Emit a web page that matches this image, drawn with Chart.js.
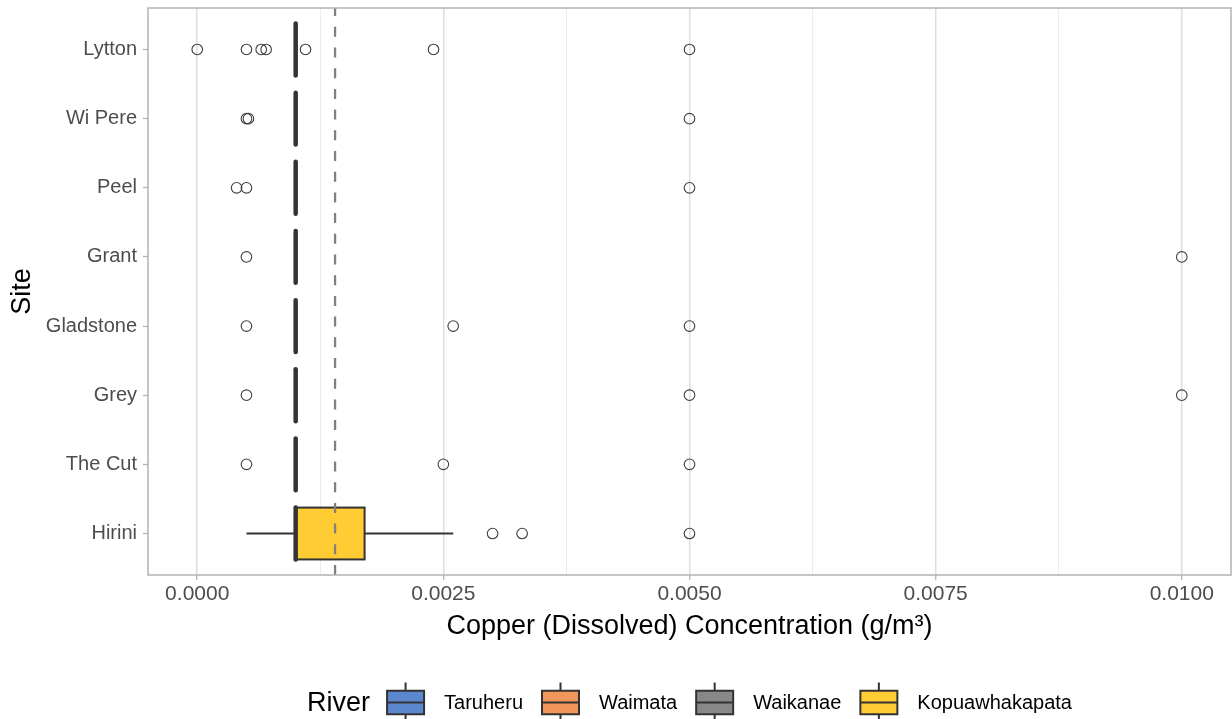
<!DOCTYPE html>
<html>
<head>
<meta charset="utf-8">
<script src="https://cdn.jsdelivr.net/npm/chart.js@4.4.1/dist/chart.umd.min.js"></script>
<style>
  html, body { margin: 0; padding: 0; background: #ffffff; }
  #wrap { width: 1232px; height: 719px; }
</style>
</head>
<body>
<div id="wrap"><canvas id="chart" width="1232" height="719"></canvas></div>
<script>
// Sites, top to bottom, and the river each one drains to
const sites = ['Lytton', 'Wi Pere', 'Peel', 'Grant', 'Gladstone', 'Grey', 'The Cut', 'Hirini'];
const siteRiver = ['Taruheru', 'Taruheru', 'Waimata', 'Waimata', 'Waikanae', 'Waikanae', 'Waikanae', 'Kopuawhakapata'];
const rivers = ['Taruheru', 'Waimata', 'Waikanae', 'Kopuawhakapata'];
const riverColors = ['#5B87CF', '#F2955A', '#888888', '#FFCC33'];

// Box statistics per site (g/m³)
const whiskerLow  = [0.001, 0.001, 0.001, 0.001, 0.001, 0.001, 0.001, 0.0005];
const q1          = [0.001, 0.001, 0.001, 0.001, 0.001, 0.001, 0.001, 0.001];
const median      = [0.001, 0.001, 0.001, 0.001, 0.001, 0.001, 0.001, 0.001];
const q3          = [0.001, 0.001, 0.001, 0.001, 0.001, 0.001, 0.001, 0.0017];
const whiskerHigh = [0.001, 0.001, 0.001, 0.001, 0.001, 0.001, 0.001, 0.0026];

// Outlying samples per site
const outliers = [
  [0, 0.0005, 0.00065, 0.0007, 0.0011, 0.0024, 0.005],
  [0.0005, 0.00052, 0.005],
  [0.0004, 0.0005, 0.005],
  [0.0005, 0.01],
  [0.0005, 0.0026, 0.005],
  [0.0005, 0.005, 0.01],
  [0.0005, 0.0025, 0.005],
  [0.003, 0.0033, 0.005]
];

// Guideline value drawn as a dashed reference line
const guideline = 0.0014;

// Axis ticks and titles
const xTicks = [0, 0.0025, 0.005, 0.0075, 0.01];
const xTitle = 'Copper (Dissolved) Concentration (g/m³)';
const yTitle = 'Site';
const legendTitle = 'River';

const FONT = '"Liberation Sans", Arial, sans-serif';
Chart.defaults.font.family = FONT;

// Major ticks plus the minor gridline positions halfway between them
const allXTicks = [];
xTicks.forEach((v, i) => {
  allXTicks.push(v);
  if (i < xTicks.length - 1) allXTicks.push((v + xTicks[i + 1]) / 2);
});
const isMajor = v => xTicks.some(t => Math.abs(t - v) < 1e-9);

const outlierPoints = [];
outliers.forEach((vals, i) => vals.forEach(v => outlierPoints.push({ x: v, y: i })));

const BOX_WIDTH = 0.75;

const boxPlugin = {
  id: 'boxes',
  beforeDatasetsDraw(chart) {
    const { ctx, chartArea: a, scales: { x, y } } = chart;
    ctx.save();
    ctx.beginPath();
    ctx.rect(a.left, a.top, a.right - a.left, a.bottom - a.top);
    ctx.clip();
    sites.forEach((s, i) => {
      const cy = y.getPixelForValue(i);
      const top = y.getPixelForValue(i - BOX_WIDTH / 2);
      const bot = y.getPixelForValue(i + BOX_WIDTH / 2);
      const xl = x.getPixelForValue(whiskerLow[i]);
      const x1 = x.getPixelForValue(q1[i]);
      const xm = x.getPixelForValue(median[i]);
      const x3 = x.getPixelForValue(q3[i]);
      const xh = x.getPixelForValue(whiskerHigh[i]);
      ctx.strokeStyle = '#333333';
      ctx.lineWidth = 2;
      ctx.lineCap = 'butt';
      // whiskers
      ctx.beginPath();
      ctx.moveTo(xl, cy); ctx.lineTo(x1, cy);
      ctx.moveTo(x3, cy); ctx.lineTo(xh, cy);
      ctx.stroke();
      // box
      ctx.fillStyle = riverColors[rivers.indexOf(siteRiver[i])];
      ctx.fillRect(x1, top, x3 - x1, bot - top);
      ctx.strokeRect(x1, top, x3 - x1, bot - top);
      // median
      ctx.lineWidth = 4.5;
      ctx.lineCap = 'round';
      ctx.beginPath();
      ctx.moveTo(xm, top); ctx.lineTo(xm, bot);
      ctx.stroke();
    });
    // dashed guideline, drawn upward from the bottom of the panel
    const gx = x.getPixelForValue(guideline);
    ctx.strokeStyle = '#808080';
    ctx.lineWidth = 2.3;
    ctx.lineCap = 'butt';
    ctx.setLineDash([10, 10.7]);
    ctx.beginPath();
    ctx.moveTo(gx, a.bottom); ctx.lineTo(gx, a.top);
    ctx.stroke();
    ctx.restore();
  },
  afterDraw(chart) {
    const { ctx, chartArea: a } = chart;
    ctx.save();
    // panel border
    ctx.strokeStyle = '#b3b3b3';
    ctx.lineWidth = 1.5;
    ctx.strokeRect(a.left, a.top, a.right - a.left, a.bottom - a.top);

    // legend along the bottom
    const cy = chart.height - 16.5;
    const keyW = 37, keyH = 23.5, titleGap = 17, keyGap = 20, itemGap = 19;
    ctx.font = '27px ' + FONT;
    const titleW = ctx.measureText(legendTitle).width;
    ctx.font = '20px ' + FONT;
    const labelW = rivers.map(r => ctx.measureText(r).width);
    let total = titleW + titleGap;
    labelW.forEach((w, i) => { total += keyW + keyGap + w + (i < rivers.length - 1 ? itemGap : 0); });
    let px = (a.left + a.right) / 2 - total / 2;
    ctx.fillStyle = '#000000';
    ctx.textBaseline = 'middle';
    ctx.textAlign = 'left';
    ctx.font = '27px ' + FONT;
    ctx.fillText(legendTitle, px, cy + 1);
    px += titleW + titleGap;
    rivers.forEach((r, i) => {
      const kx = px, ky = cy - keyH / 2;
      ctx.strokeStyle = '#333333';
      ctx.lineWidth = 2;
      ctx.beginPath();
      ctx.moveTo(kx + keyW / 2, cy - 20); ctx.lineTo(kx + keyW / 2, ky);
      ctx.moveTo(kx + keyW / 2, ky + keyH); ctx.lineTo(kx + keyW / 2, cy + 20);
      ctx.stroke();
      ctx.fillStyle = riverColors[i];
      ctx.fillRect(kx, ky, keyW, keyH);
      ctx.strokeRect(kx, ky, keyW, keyH);
      ctx.beginPath();
      ctx.moveTo(kx, cy); ctx.lineTo(kx + keyW, cy);
      ctx.stroke();
      px += keyW + keyGap;
      ctx.fillStyle = '#000000';
      ctx.font = '20px ' + FONT;
      ctx.fillText(r, px, cy + 1);
      px += labelW[i] + itemGap;
    });
    ctx.restore();
  }
};

new Chart(document.getElementById('chart'), {
  type: 'scatter',
  data: {
    datasets: [{
      label: 'Outliers',
      data: outlierPoints,
      pointRadius: 5.3,
      pointHoverRadius: 5.3,
      pointBorderWidth: 1.1,
      borderColor: '#3f3f3f',
      backgroundColor: 'rgba(0,0,0,0)',
      clip: false
    }]
  },
  options: {
    responsive: false,
    animation: false,
    devicePixelRatio: 1,
    events: [],
    layout: { autoPadding: false, padding: { left: 0, right: 1, top: 8, bottom: 56 } },
    plugins: { legend: { display: false }, tooltip: { enabled: false } },
    scales: {
      x: {
        type: 'linear',
        min: -0.0005,
        max: 0.0105,
        afterBuildTicks: s => { s.ticks = allXTicks.map(v => ({ value: v })); },
        afterFit: s => { s.height = 88; s.paddingLeft = 0; s.paddingRight = 0; },
        border: { display: false },
        grid: {
          color: c => (c.tick && isMajor(c.tick.value)) ? '#dedede' : '#ececec',
          lineWidth: c => (c.tick && isMajor(c.tick.value)) ? 1.5 : 1,
          tickColor: c => (c.tick && isMajor(c.tick.value)) ? '#b3b3b3' : 'rgba(0,0,0,0)',
          tickLength: 5,
          tickWidth: 1.3
        },
        ticks: {
          autoSkip: false,
          maxRotation: 0,
          padding: 2,
          color: '#4d4d4d',
          font: { size: 21 },
          callback: v => isMajor(v) ? v.toFixed(4) : ''
        },
        title: {
          display: true,
          text: xTitle,
          color: '#000000',
          font: { size: 27 },
          padding: { top: 0, bottom: 19.8 }
        }
      },
      y: {
        type: 'linear',
        min: -0.6,
        max: 7.6,
        reverse: true,
        afterBuildTicks: s => { s.ticks = sites.map((_, i) => ({ value: i })); },
        afterFit: s => { s.width = 148; s.paddingTop = 0; s.paddingBottom = 0; },
        border: { display: false },
        grid: {
          drawOnChartArea: false,
          color: '#b3b3b3',
          tickLength: 5,
          tickWidth: 1.3
        },
        ticks: {
          autoSkip: false,
          padding: 6,
          color: '#4d4d4d',
          font: { size: 20 },
          callback: v => sites[v] !== undefined ? sites[v] : ''
        },
        title: {
          display: true,
          text: yTitle,
          color: '#000000',
          font: { size: 27 },
          padding: { top: 6.8, bottom: 0 }
        }
      }
    }
  },
  plugins: [boxPlugin]
});
</script>
</body>
</html>
